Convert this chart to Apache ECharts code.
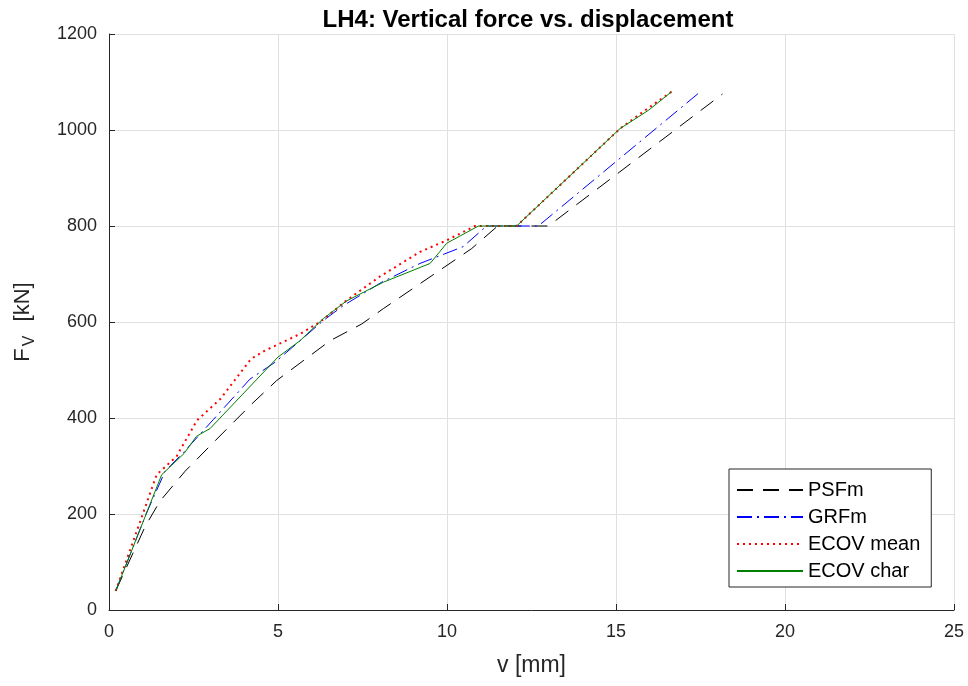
<!DOCTYPE html>
<html>
<head>
<meta charset="utf-8">
<script src="https://cdn.jsdelivr.net/npm/echarts@6/dist/echarts.min.js"></script>
<style>html,body{margin:0;padding:0;background:#fff;}#c{width:968px;height:686px;}</style>
</head>
<body>
<div id="c"></div>
<script>
var xTicks = [0, 5, 10, 15, 20, 25];
var yTicks = [0, 200, 400, 600, 800, 1000, 1200];

var psfmX = [0.2, 1.07, 1.51, 2.25, 3.09, 4.22, 4.96, 6.54, 7.48, 8.12, 10.73, 11.5, 13.0, 18.15];
var psfmY = [40, 174, 227, 289, 349, 429, 478, 561, 596, 628, 753, 800, 800, 1075];

var grfmX = [0.2, 1.11, 1.66, 2.2, 3.09, 4.17, 4.91, 5.65, 6.34, 6.93, 8.07, 9.2, 10.48, 11.17, 12.7, 17.5];
var grfmY = [40, 202, 289, 328, 397, 481, 516, 561, 603, 634, 683, 722, 757, 800, 800, 1080];

var ecovMeanX = [0.2, 1.41, 2.0, 2.6, 3.3, 4.2, 4.6, 5.65, 6.24, 7.03, 8.02, 9.2, 9.99, 10.83, 12.06, 15.12, 16.0, 16.65];
var ecovMeanY = [40, 282, 320, 395, 440, 523, 540, 575, 600, 645, 695, 746, 770, 800, 800, 1003, 1048, 1080];

var ecovCharX = [0.2, 1.56, 2.22, 2.59, 2.99, 5.0, 5.65, 6.34, 7.03, 8.12, 9.5, 9.99, 10.93, 12.06, 15.12, 15.96, 16.65];
var ecovCharY = [40, 282, 326, 362, 378, 527, 561, 607, 644, 683, 722, 764, 800, 800, 1003, 1041, 1080];

var seriesNames = ['PSFm', 'GRFm', 'ECOV mean', 'ECOV char'];

function pairs(xs, ys) { return xs.map(function (x, i) { return [x, ys[i]]; }); }

var FONT = '"Liberation Sans", Arial, Helvetica, sans-serif';
var AX = '#262626';

var chart = echarts.init(document.getElementById('c'), null, {renderer: 'canvas'});
chart.setOption({
  animation: false,
  backgroundColor: '#ffffff',
  title: {
    text: 'LH4: Vertical force vs. displacement',
    left: 523, top: 3, textAlign: 'center',
    textStyle: {fontFamily: FONT, fontSize: 24, fontWeight: 'bold', color: '#000'}
  },
  grid: {left: 109, right: 14, top: 34, bottom: 76, containLabel: false},
  xAxis: {
    type: 'value', min: xTicks[0], max: xTicks[xTicks.length - 1], interval: 5,
    name: 'v [mm]', nameLocation: 'middle', nameGap: 44,
    nameTextStyle: {fontFamily: FONT, fontSize: 23, color: AX},
    axisLine: {show: true, onZero: false, lineStyle: {color: AX, width: 1}},
    axisTick: {show: true, inside: true, length: 6, lineStyle: {color: AX}},
    axisLabel: {fontFamily: FONT, fontSize: 18, color: AX, margin: 13, formatter: function (v) { return String(v); }},
    splitLine: {show: true, lineStyle: {color: '#e0e0e0', width: 1}}
  },
  yAxis: {
    type: 'value', min: yTicks[0], max: yTicks[yTicks.length - 1], interval: 200,
    name: '{a|F}{b|V}{a|  [kN]}', nameLocation: 'middle', nameGap: 72, nameRotate: 90,
    nameTextStyle: {
      fontFamily: FONT, color: AX,
      rich: {
        a: {fontFamily: FONT, fontSize: 22, color: AX, lineHeight: 28},
        b: {fontFamily: FONT, fontSize: 16, color: AX, lineHeight: 16, padding: [14, 2, 0, 2]}
      }
    },
    axisLine: {show: true, onZero: false, lineStyle: {color: AX, width: 1}},
    axisTick: {show: true, inside: true, length: 6, lineStyle: {color: AX}},
    axisLabel: {fontFamily: FONT, fontSize: 18, color: AX, margin: 12, formatter: function (v) { return String(v); }},
    splitLine: {show: true, lineStyle: {color: '#e0e0e0', width: 1}}
  },
  legend: {
    orient: 'vertical', left: 729, top: 469,
    itemWidth: 66, itemHeight: 14, itemGap: 7,
    padding: [11, 11, 6, 7],
    backgroundColor: '#ffffff', borderColor: AX, borderWidth: 1,
    itemStyle: {opacity: 0},
    textStyle: {fontFamily: FONT, fontSize: 20, color: '#000'},
    data: seriesNames
  },
  series: [
    {name: seriesNames[0], type: 'line', data: pairs(psfmX, psfmY), symbol: 'none', z: 2,
     lineStyle: {color: '#000000', width: 1, type: [16, 10]}, itemStyle: {color: '#000000'}},
    {name: seriesNames[1], type: 'line', data: pairs(grfmX, grfmY), symbol: 'none', z: 3,
     lineStyle: {color: '#0000ff', width: 1, type: [15, 5, 2, 5]}, itemStyle: {color: '#0000ff'}},
    {name: seriesNames[2], type: 'line', data: pairs(ecovMeanX, ecovMeanY), symbol: 'none', z: 4,
     lineStyle: {color: '#ff0000', width: 2, type: [2, 4]}, itemStyle: {color: '#ff0000'}},
    {name: seriesNames[3], type: 'line', data: pairs(ecovCharX, ecovCharY), symbol: 'none', z: 5,
     lineStyle: {color: '#008000', width: 1, type: 'solid'}, itemStyle: {color: '#008000'}}
  ]
});
</script>
</body>
</html>
